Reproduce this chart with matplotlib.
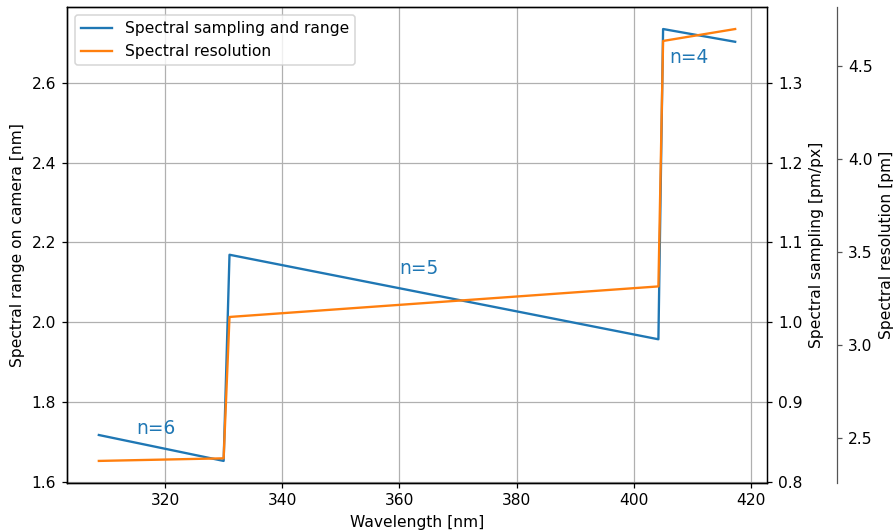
import matplotlib
matplotlib.use("Agg")
import matplotlib.pyplot as plt

# wavelength [nm] at the segment ends (orders n=6, n=5, n=4)
wavelength = [308.7, 330.0, 331.0, 404.2, 405.0, 417.3]
# spectral range on camera [nm]
spec_range = [1.717, 1.652, 2.169, 1.957, 2.735, 2.703]
# spectral resolution [pm]
spec_res = [2.379, 2.393, 3.152, 3.316, 4.634, 4.698]

orders = ["n=6", "n=5", "n=4"]
order_x = [315, 360, 406]
order_y = [1.72, 2.12, 2.65]

fig, ax = plt.subplots(figsize=(8.0, 531 / 112), dpi=112)
fig.subplots_adjust(left=0.0748, right=0.856, top=0.986, bottom=0.0913)

l1, = ax.plot(wavelength, spec_range, color="tab:blue", label="Spectral sampling and range")
ax.set_xlabel("Wavelength [nm]")
ax.set_ylabel("Spectral range on camera [nm]")
ax.grid(True)

for txt, tx, ty in zip(orders, order_x, order_y):
    ax.text(tx, ty, txt, color="tab:blue", fontsize=12)

# sampling axis: range spread over 2000 px
ax2 = ax.twinx()
lo, hi = ax.get_ylim()
ax2.set_ylim(lo / 2, hi / 2)
ax2.set_ylabel("Spectral sampling [pm/px]")

ax3 = ax.twinx()
ax3.spines["right"].set_position(("axes", 1.1))
ax3.spines["right"].set_color("#555555")
ax3.tick_params(axis="y", color="#555555")
l2, = ax3.plot(wavelength, spec_res, color="tab:orange", label="Spectral resolution")
ax3.set_ylabel("Spectral resolution [pm]")

ax.legend(handles=[l1, l2], loc="upper left")

fig.savefig("out.png")
